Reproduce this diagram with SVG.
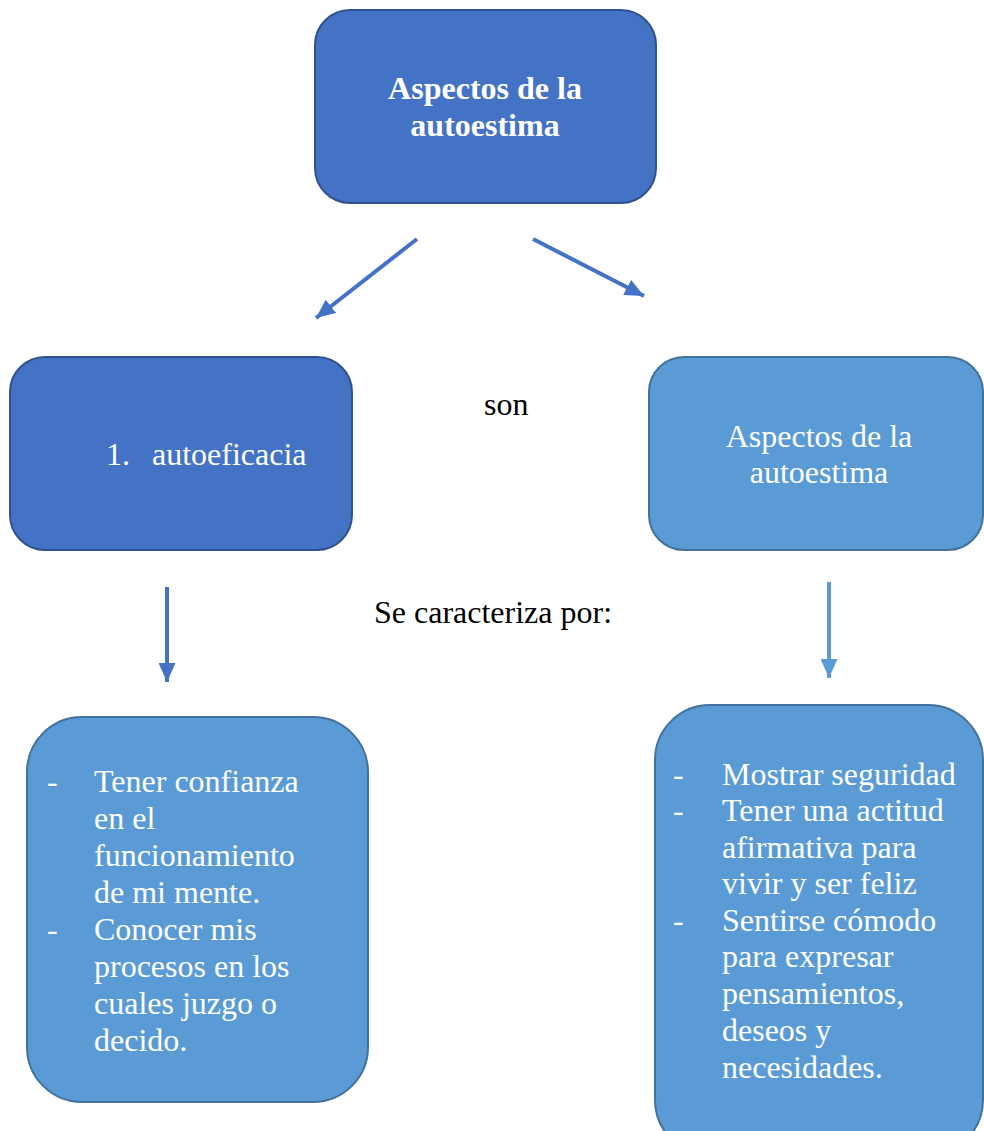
<svg xmlns="http://www.w3.org/2000/svg" width="984" height="1131" viewBox="0 0 984 1131">
<defs>
<style>
.dk{fill:#4472C4;stroke:#2F528F;stroke-width:2}
.lt{fill:#5B9BD5;stroke:#41719C;stroke-width:2}
.t{font-family:"Liberation Serif","Times New Roman",serif;font-size:32px;fill:#ffffff}
.b{font-weight:bold}
.k{font-family:"Liberation Serif","Times New Roman",serif;font-size:32px;fill:#000000}
.c1{stroke:#4472C4;stroke-width:4;fill:none}
.c2{stroke:#5B9BD5;stroke-width:4;fill:none}
</style>
<marker id="ah1" markerUnits="userSpaceOnUse" markerWidth="20" markerHeight="17" refX="19" refY="8.5" orient="auto">
<path d="M0,0 L19,8.5 L0,17 Z" fill="#4472C4"/>
</marker>
<marker id="ah2" markerUnits="userSpaceOnUse" markerWidth="20" markerHeight="17" refX="19" refY="8.5" orient="auto">
<path d="M0,0 L19,8.5 L0,17 Z" fill="#5B9BD5"/>
</marker>
</defs>
<rect width="984" height="1131" fill="#ffffff"/>
<g id="connectors">
<line class="c1" x1="417" y1="239" x2="316" y2="318" marker-end="url(#ah1)"/>
<line class="c1" x1="533" y1="239" x2="644" y2="296" marker-end="url(#ah1)"/>
<line class="c1" x1="167" y1="587" x2="167" y2="682" marker-end="url(#ah1)"/>
<line class="c2" x1="829" y1="582" x2="829" y2="678" marker-end="url(#ah2)"/>
</g>
<g id="node-top">
<rect class="dk" x="315" y="10" width="341" height="193" rx="35"/>
<text class="t b" x="485" y="99" text-anchor="middle">Aspectos de la</text>
<text class="t b" x="485" y="136" text-anchor="middle">autoestima</text>
</g>
<g id="node-autoeficacia">
<rect class="dk" x="10" y="357" width="342" height="193" rx="35"/>
<text class="t" x="106" y="465">1.</text>
<text class="t" x="152" y="465">autoeficacia</text>
</g>
<g id="node-aspectos">
<rect class="lt" x="649" y="357" width="334" height="193" rx="35"/>
<text class="t" x="819" y="447" text-anchor="middle">Aspectos de la</text>
<text class="t" x="819" y="483" text-anchor="middle">autoestima</text>
</g>
<g id="label-son">
<text class="k" x="484" y="415">son</text>
</g>
<g id="label-caracteriza">
<text class="k" x="374" y="623">Se caracteriza por:</text>
</g>
<g id="node-left-list">
<rect class="lt" x="27" y="717" width="341" height="385" rx="55"/>
<text class="t" x="47" y="792">-</text>
<text class="t" x="94" y="792">Tener confianza</text>
<text class="t" x="94" y="829">en el</text>
<text class="t" x="94" y="866">funcionamiento</text>
<text class="t" x="94" y="903">de mi mente.</text>
<text class="t" x="47" y="940">-</text>
<text class="t" x="94" y="940">Conocer mis</text>
<text class="t" x="94" y="977">procesos en los</text>
<text class="t" x="94" y="1014">cuales juzgo o</text>
<text class="t" x="94" y="1051">decido.</text>
</g>
<g id="node-right-list">
<rect class="lt" x="655" y="705" width="328" height="450" rx="55"/>
<text class="t" x="673" y="785">-</text>
<text class="t" x="722" y="785">Mostrar seguridad</text>
<text class="t" x="673" y="821">-</text>
<text class="t" x="722" y="821">Tener una actitud</text>
<text class="t" x="722" y="858">afirmativa para</text>
<text class="t" x="722" y="894">vivir y ser feliz</text>
<text class="t" x="673" y="931">-</text>
<text class="t" x="722" y="931">Sentirse cómodo</text>
<text class="t" x="722" y="967">para expresar</text>
<text class="t" x="722" y="1004">pensamientos,</text>
<text class="t" x="722" y="1041">deseos y</text>
<text class="t" x="722" y="1078">necesidades.</text>
</g>
</svg>
